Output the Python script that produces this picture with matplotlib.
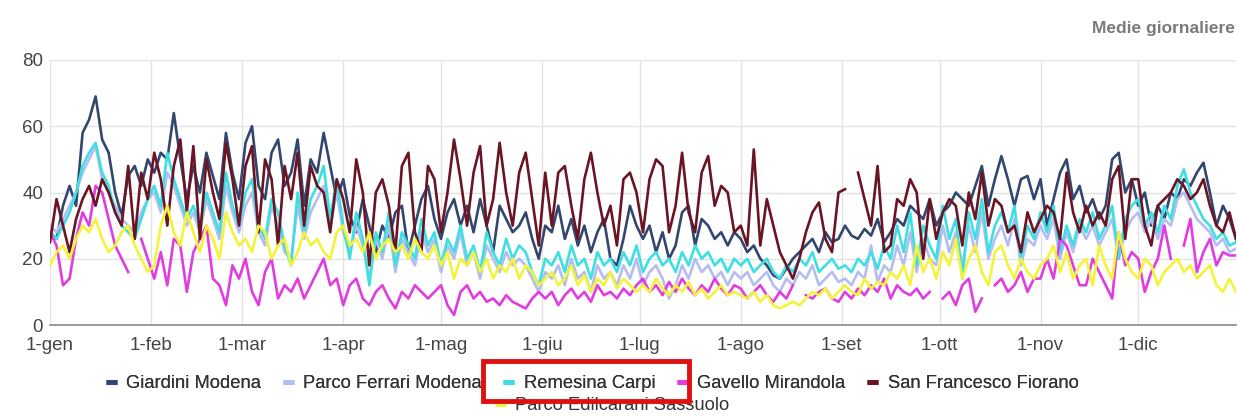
import numpy as np
import matplotlib
matplotlib.use("Agg")
import matplotlib.pyplot as plt
from matplotlib.lines import Line2D
from matplotlib.patches import Rectangle

nan = float("nan")

month_labels = ["1-gen", "1-feb", "1-mar", "1-apr", "1-mag", "1-giu",
                "1-lug", "1-ago", "1-set", "1-ott", "1-nov", "1-dic"]
month_starts = [0, 31, 59, 90, 120, 151, 181, 212, 243, 273, 304, 334]

series_names = ["Giardini Modena", "Parco Ferrari Modena", "Remesina Carpi",
                "Gavello Mirandola", "San Francesco Fiorano", "Parco Edilcarani Sassuolo"]
series_colors = ["#33466f", "#b5bdf0", "#3ddfe2", "#e03ce0", "#6a1424", "#f3f33a"]

# values every 2 days (day 0, 2, 4, ... 364), grouped by month
giardini = (
    [28, 26, 36, 42, 36, 58, 62, 69, 56, 52, 40, 33, 45, 48, 42, 50] +
    [46, 52, 50, 64, 50, 38, 48, 40, 52, 45, 38, 58, 46, 38] +
    [55, 60, 42, 38, 52, 56, 42, 46, 56, 36, 50, 46, 58, 48, 38] +
    [44, 33, 28, 38, 30, 22, 30, 26, 34, 36, 22, 30, 38, 42, 32] +
    [26, 34, 38, 30, 36, 28, 38, 30, 22, 36, 32, 28, 30, 34, 26, 20] +
    [30, 28, 36, 26, 32, 24, 30, 22, 28, 32, 20, 18, 26, 36, 30] +
    [26, 30, 22, 28, 20, 24, 34, 36, 24, 32, 30, 26, 28, 24, 28] +
    [26, 22, 24, 20, 18, 15, 14, 17, 20, 22, 24, 26, 22, 28, 25, 26] +
    [30, 27, 26, 29, 27, 32, 25, 28, 32, 30, 36, 34, 32, 38, 30] +
    [34, 36, 40, 38, 36, 42, 48, 36, 44, 51, 44, 36, 44, 45, 38] +
    [44, 30, 38, 46, 50, 38, 42, 34, 38, 32, 36, 50, 52, 40, 44] +
    [36, 40, 30, 36, 32, 40, 38, 44, 42, 46, 49, 40, 30, 36, 32, 26]
)
ferrari = (
    [30, 28, 32, 36, 40, 46, 50, 54, 44, 40, 36, 32, 30, 28, 34, 38] +
    [40, 34, 46, 42, 36, 30, 34, 28, 38, 32, 26, 42, 34, 28] +
    [36, 40, 28, 24, 36, 30, 22, 20, 36, 26, 34, 38, 42, 30, 40] +
    [28, 22, 30, 24, 14, 26, 20, 30, 16, 26, 22, 18, 28, 22, 26] +
    [16, 24, 20, 28, 18, 22, 14, 24, 20, 16, 22, 18, 20, 18, 14, 10] +
    [16, 14, 18, 12, 20, 14, 16, 10, 18, 14, 16, 12, 18, 14, 20] +
    [12, 16, 18, 14, 8, 12, 18, 14, 20, 16, 18, 14, 16, 12, 16] +
    [14, 16, 12, 14, 16, 12, 10, 14, 12, 16, 14, 18, 12, 14, 16, 13] +
    [14, 12, 16, 14, 24, 13, 18, 16, 24, 18, 28, 16, 26, 20, 18] +
    [30, 22, 28, 18, 30, 22, 34, 20, 26, 30, 24, 32, 18, 26, 24] +
    [30, 26, 32, 20, 28, 22, 30, 26, 30, 24, 28, 32, 20, 28, 32] +
    [34, 28, 32, 26, 32, 30, 38, 40, 36, 32, 30, 28, 24, 26, 22, 23]
)
remesina = (
    [28, 26, 30, 34, 40, 48, 52, 55, 46, 42, 34, 30, 28, 26, 32, 38] +
    [42, 36, 52, 44, 38, 32, 36, 30, 40, 34, 28, 46, 36, 30] +
    [40, 44, 30, 26, 38, 34, 24, 18, 40, 28, 38, 42, 48, 32, 44] +
    [30, 20, 34, 26, 12, 28, 22, 34, 18, 28, 24, 20, 32, 24, 28] +
    [18, 26, 22, 30, 20, 24, 16, 28, 22, 18, 26, 20, 24, 22, 16, 12] +
    [20, 18, 22, 16, 24, 18, 20, 14, 22, 18, 20, 16, 22, 18, 24] +
    [16, 20, 22, 18, 20, 16, 22, 18, 24, 20, 22, 18, 20, 16, 20] +
    [18, 20, 16, 18, 20, 16, 14, 18, 16, 20, 18, 22, 16, 18, 20, 17] +
    [18, 16, 20, 18, 22, 17, 24, 20, 30, 22, 34, 18, 30, 24, 20] +
    [36, 26, 32, 14, 34, 26, 38, 22, 30, 34, 28, 36, 20, 30, 26] +
    [34, 28, 36, 22, 30, 24, 32, 28, 34, 26, 30, 36, 20, 32, 36] +
    [38, 30, 34, 28, 36, 32, 42, 47, 40, 36, 32, 30, 26, 28, 24, 25]
)
gavello = (
    [28, 24, 12, 14, 26, 34, 30, 42, 40, 32, 24, 20, 16, nan, 26, 20] +
    [14, 22, 12, 26, 24, 10, 22, 26, 30, 14, 12, 6, 18, 14] +
    [20, 10, 6, 16, 20, 8, 12, 10, 14, 8, 12, 16, 20, 12, 14] +
    [6, 12, 14, 8, 6, 10, 12, 8, 5, 10, 8, 12, 10, 8, 10] +
    [12, 6, 3, 10, 12, 8, 10, 7, 8, 6, 9, 7, 6, 5, 8, 10] +
    [8, 10, 6, 9, 11, 8, 10, 7, 12, 9, 10, 8, 11, 9, 12] +
    [14, 10, 12, 9, 13, 10, 14, 11, 9, 12, 10, 14, 11, 9, 12] +
    [11, 8, 10, 12, 9, 7, 10, 8, 12, nan, 9, 8, 10, 11, 8, 7] +
    [10, 8, 11, 9, 12, 10, 14, 8, 12, 10, 9, 11, 8, 10, nan] +
    [8, 10, 6, 12, 14, 4, 8, nan, 12, 14, 10, 12, 16, 10, 14] +
    [14, 20, 14, 26, 24, 18, 12, 12, 20, 16, 12, 8, 28, 18, 22] +
    [20, 10, 16, 20, 30, 20, nan, 24, 32, 16, 22, 26, 18, 22, 21, 21]
)
fiorano = (
    [25, 38, 30, 22, 32, 38, 42, 36, 44, 40, 34, 30, 48, 26, 46, 38] +
    [52, 44, 30, 48, 56, 34, 54, 26, 50, 40, 32, 55, 44, 30] +
    [48, 54, 28, 50, 44, 24, 48, 38, 52, 30, 48, 42, 40, 28, 44] +
    [38, 28, 50, 40, 18, 40, 44, 36, 22, 48, 52, 28, 22, 48, 44] +
    [28, 40, 56, 44, 30, 46, 54, 30, 38, 55, 40, 30, 46, 52, 38, 24] +
    [46, 30, 46, 48, 36, 26, 44, 52, 40, 30, 36, 24, 44, 46, 40] +
    [28, 44, 50, 48, 28, 36, 52, 34, 28, 46, 51, 36, 42, 40, 28] +
    [30, 24, 53, 24, 38, 30, 22, 18, 14, 20, 28, 34, 37, 26, 22, 40] +
    [41, nan, 46, 38, 30, 48, 22, 24, 38, 36, 44, 40, 20, 38, 26] +
    [34, 38, 36, 24, 40, 32, 46, 30, 38, 36, 28, 30, 22, 34, 28] +
    [32, 36, 34, 26, 46, 34, 28, 36, 30, 34, 30, 44, 48, 26, 44] +
    [44, 30, 24, 36, 38, 40, 44, 42, 38, 40, 44, 36, 30, 28, 34, 26]
)
edilcarani = (
    [18, 22, 24, 20, 26, 30, 28, 32, 26, 22, 24, 28, 30, 24, 20, 16] +
    [18, 30, 36, 28, 24, 34, 28, 22, 30, 26, 20, 34, 28, 24] +
    [26, 22, 30, 28, 20, 24, 26, 18, 22, 28, 24, 26, 22, 20, 28] +
    [30, 24, 26, 22, 28, 20, 24, 26, 22, 24, 20, 26, 22, 20, 24] +
    [18, 22, 14, 20, 18, 22, 16, 20, 14, 18, 16, 20, 14, 18, 16, 12] +
    [14, 16, 12, 14, 18, 12, 15, 10, 14, 12, 16, 11, 14, 12, 10] +
    [12, 10, 14, 11, 9, 12, 10, 13, 9, 11, 8, 10, 12, 9, 10] +
    [9, 8, 10, 7, 9, 6, 5, 6, 7, 6, 8, 10, 9, 11, 8, 10] +
    [12, 10, 9, 14, 11, 13, 12, 16, 14, 18, 12, 24, 16, 20, 14] +
    [22, 18, 26, 14, 20, 24, 16, 12, 22, 24, 18, 14, 20, 16, 14] +
    [18, 20, 24, 16, 22, 14, 18, 20, 12, 24, 18, 14, 28, 20, 16] +
    [14, 20, 18, 12, 16, 18, 20, 16, 18, 14, 16, 18, 12, 10, 14, 10]
)

all_series = [giardini, ferrari, remesina, gavello, fiorano, edilcarani]

plt.rcParams["font.family"] = ["Liberation Sans", "DejaVu Sans"]

W, H = 1238, 416
fig = plt.figure(figsize=(W / 100, H / 100), dpi=100)
ax = fig.add_axes([50 / W, 1 - 325 / H, 1186 / W, 265 / H])

for vals, name, col in zip(all_series, series_names, series_colors):
    v = np.array(vals, dtype=float)
    x = np.arange(len(v)) * 2
    ax.plot(x, v, color=col, lw=1.9, solid_joinstyle="round", label=name)

ax.set_xlim(0, 364)
ax.set_ylim(0, 80)
ax.set_yticks([0, 20, 40, 60, 80])
ax.set_xticks(month_starts)
ax.set_xticklabels(month_labels)
ax.grid(True, color="#e3e3e3", lw=1)
ax.set_axisbelow(True)
for s in ["top", "right", "left"]:
    ax.spines[s].set_visible(False)
ax.spines["bottom"].set_color("#888888")
ax.spines["bottom"].set_linewidth(1.2)
ax.tick_params(axis="both", length=0, labelsize=13.5, colors="#444444")
ax.tick_params(axis="x", pad=9)
ax.tick_params(axis="y", pad=5)

fig.text(1235 / W, 1 - 28 / H, "Medie giornaliere", ha="right", va="center",
         fontsize=12.5, fontweight="bold", color="#7a7a7a")

handles = [Line2D([0], [0], color=c, lw=3.5, solid_capstyle="butt") for c in series_colors]
leg1 = fig.legend(handles[:5], series_names[:5], loc="center",
                  bbox_to_anchor=(592 / W, 1 - 384 / H), ncol=5, frameon=False,
                  fontsize=13.2, handlelength=0.6, handletextpad=0.5, columnspacing=1.2,
                  borderaxespad=0, borderpad=0)
for t in leg1.get_texts():
    t.set_color("#333333")
leg2 = fig.legend(handles[5:], series_names[5:], loc="center",
                  bbox_to_anchor=(612 / W, 1 - 406 / H), ncol=1, frameon=False,
                  fontsize=13.2, handlelength=0.6, handletextpad=0.5,
                  borderaxespad=0, borderpad=0)
for t in leg2.get_texts():
    t.set_color("#333333")
fig.add_artist(leg1)

fig.patches.append(Rectangle((483 / W, 1 - 401 / H), 206 / W, 40 / H, fill=False,
                             edgecolor="#e01010", lw=3.5, transform=fig.transFigure,
                             zorder=10))

fig.savefig("out.png", dpi=100)
